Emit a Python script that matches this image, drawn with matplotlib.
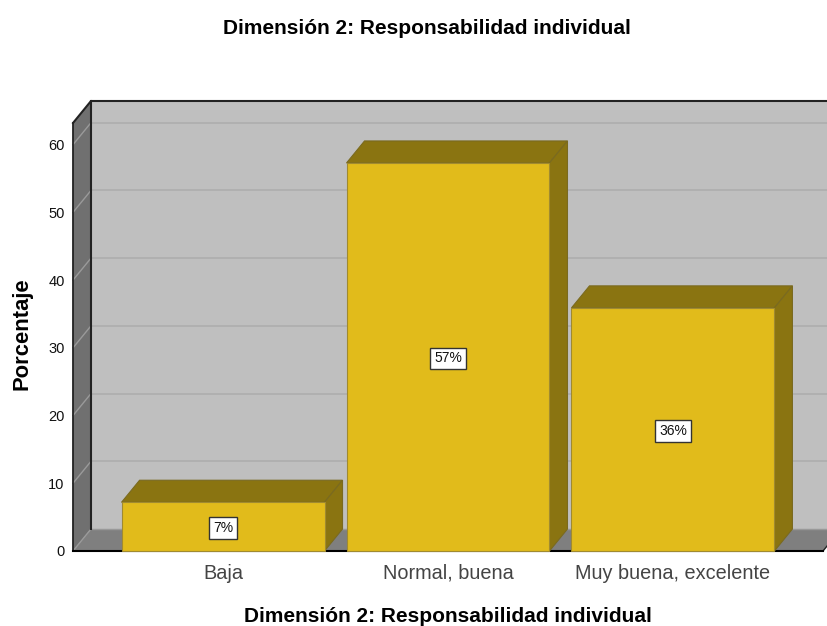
import matplotlib
matplotlib.use("Agg")
import matplotlib.pyplot as plt

plt.rcParams['font.family'] = ['Liberation Sans', 'DejaVu Sans']

categories = ['Baja', 'Normal, buena', 'Muy buena, excelente']
porcentaje = [7.2, 57.3, 35.9]
bar_labels = ['7%', '57%', '36%']
yticks = [0, 10, 20, 30, 40, 50, 60]
titulo = 'Dimensión 2: Responsabilidad individual'
ylabel = 'Porcentaje'

W, H = 827, 626
fig = plt.figure(figsize=(W / 100, H / 100), dpi=100)
ax = fig.add_axes([73 / W, 75 / H, 750 / W, 428 / H])
xmin, xmax = -0.667, 2.667
ymin, ymax = 0, 63.2
ax.set_xlim(xmin, xmax)
ax.set_ylim(ymin, ymax)

# depth of the fake 3d box, in data units (17px right, 22px up)
dx = 18 / 225
dy = 22 / 6.77

# walls
ax.fill([xmin + dx, xmax + dx, xmax + dx, xmin + dx], [dy, dy, ymax + dy, ymax + dy],
        color='#bfbfbf', lw=0, clip_on=False, zorder=1)
ax.fill([xmin, xmax, xmax + dx, xmin + dx], [0, 0, dy, dy],
        color='#7f7f7f', lw=0, clip_on=False, zorder=1)
ax.fill([xmin, xmin + dx, xmin + dx, xmin], [0, dy, ymax + dy, ymax],
        color='#707070', lw=0, clip_on=False, zorder=1)

# gridlines on back and side wall
for t in yticks:
    if t > 0:
        ax.plot([xmin + dx, xmax + dx], [t + dy, t + dy], color='#adadad', lw=1.2,
                clip_on=False, zorder=2)
    ax.plot([xmin, xmin + dx], [t, t + dy], color='#9a9a9a', lw=1,
            clip_on=False, zorder=2)

# box edges
ax.plot([xmin + dx, xmin + dx], [dy, ymax + dy], color='#222222', lw=1.5, clip_on=False, zorder=3)
ax.plot([xmin, xmin + dx, xmax + dx], [ymax, ymax + dy, ymax + dy], color='#222222', lw=1.5,
        clip_on=False, zorder=3)
ax.plot([xmax, xmax + dx], [0, dy], color='#222222', lw=1, clip_on=False, zorder=3)
ax.plot([xmin + dx, xmax + dx], [dy, dy], color='#999999', lw=1, clip_on=False, zorder=2)

# bars, with top and side face
width = 203 / 225
for i, v in enumerate(porcentaje):
    l, r = i - width / 2, i + width / 2
    ax.fill([l, r, r + dx, l + dx], [v, v, v + dy, v + dy], facecolor='#8a7411',
            edgecolor='#7a6a20', lw=0.8, clip_on=False, zorder=4)
    ax.fill([r, r + dx, r + dx, r], [0, dy, v + dy, v], facecolor='#8a7411',
            edgecolor='#7a6a20', lw=0.8, clip_on=False, zorder=4)
    ax.bar(i, v, width=width, color='#e1bb1b', edgecolor='#a08a30', lw=0.8, clip_on=False, zorder=5)
    ax.text(i, v / 2, bar_labels[i], ha='center', va='center_baseline', fontsize=10, color='#111111',
            zorder=6, bbox=dict(boxstyle='square,pad=0.27', fc='white', ec='#333333', lw=1))

for s in ['top', 'right']:
    ax.spines[s].set_visible(False)
ax.spines['left'].set_color('#222222')
ax.spines['bottom'].set_color('black')
ax.spines['left'].set_linewidth(1.3)
ax.spines['bottom'].set_linewidth(1.5)
ax.spines['left'].set_zorder(3.5)
ax.spines['bottom'].set_zorder(3.5)
ax.patch.set_visible(False)

# category labels on one baseline, commas and descenders would shift them otherwise
ax.set_xticks(range(len(categories)))
ax.set_xticklabels(categories, fontsize=14.3, color='#444444', va='baseline')
ax.tick_params(axis='x', length=0, pad=20)
ax.set_yticks(yticks)
ax.tick_params(axis='y', length=0, pad=6, labelsize=10.5, labelcolor='#111111')

fig.text(426.5 / W, 1 - 28 / H, titulo, ha='center', va='center', fontsize=15, fontweight='bold', color='black')
fig.text(447.5 / W, 1 - 617 / H, titulo, ha='center', va='center', fontsize=15, fontweight='bold', color='black')
fig.text(22 / W, 1 - 334 / H, ylabel, ha='center', va='center', rotation=90, fontsize=15.8, fontweight='bold', color='black')

fig.savefig('out.png', dpi=100)
